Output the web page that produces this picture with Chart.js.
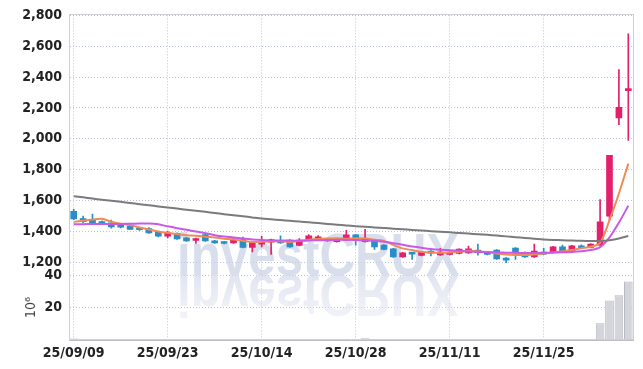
<!DOCTYPE html>
<html>
<head>
<meta charset="utf-8">
<script src="https://cdn.jsdelivr.net/npm/chart.js@4.4.1/dist/chart.umd.min.js"></script>
<style>
  html, body { margin: 0; padding: 0; background: #fff; }
  #wrap { width: 643px; height: 369px; position: relative; }
</style>
</head>
<body>
<div id="wrap"><canvas id="chart"></canvas></div>
<script>
/* ============================================================
   Candle chart (daily) + MAs + volume panel
   ============================================================ */

// trading days (YY/MM/DD)
const dates = [
  '25/09/09','25/09/10','25/09/11','25/09/12','25/09/15','25/09/16','25/09/17','25/09/18','25/09/19','25/09/22',
  '25/09/23','25/09/24','25/09/25','25/09/26','25/09/29','25/09/30','25/10/01','25/10/02','25/10/10','25/10/13',
  '25/10/14','25/10/15','25/10/16','25/10/17','25/10/20','25/10/21','25/10/22','25/10/23','25/10/24','25/10/27',
  '25/10/28','25/10/29','25/10/30','25/10/31','25/11/03','25/11/04','25/11/05','25/11/06','25/11/07','25/11/10',
  '25/11/11','25/11/12','25/11/13','25/11/14','25/11/17','25/11/18','25/11/19','25/11/20','25/11/21','25/11/24',
  '25/11/25','25/11/26','25/11/27','25/11/28','25/12/01','25/12/02','25/12/03','25/12/04','25/12/05','25/12/08'
];

const opens = [
  1530,1483,1477,1461,1455,1433,1433,1416,1418,1394,
  1368,1386,1357,1340,1379,1338,1332,1325,1347,1295,
  1317,1330,1338,1343,1308,1347,1343,1353,1332,1343,
  1377,1332,1338,1310,1286,1234,1260,1243,1265,1247,
  1250,1256,1260,1278,1267,1278,1226,1291,1263,1234,
  1260,1263,1299,1273,1306,1295,1310,1498,2135,2312
];
const highs = [
  1543,1498,1511,1468,1472,1440,1436,1420,1424,1397,
  1401,1390,1360,1356,1382,1341,1335,1360,1362,1328,
  1368,1350,1370,1346,1352,1378,1372,1356,1350,1407,
  1380,1412,1341,1313,1289,1263,1263,1268,1275,1289,
  1268,1287,1304,1317,1270,1281,1229,1294,1266,1317,
  1289,1302,1310,1309,1312,1320,1606,1893,2448,2681
];
const lows = [
  1475,1455,1452,1445,1420,1422,1410,1405,1386,1364,
  1357,1348,1334,1321,1334,1322,1318,1322,1292,1267,
  1299,1250,1322,1296,1305,1344,1340,1335,1329,1340,
  1310,1329,1282,1279,1231,1231,1217,1240,1240,1244,
  1247,1253,1257,1245,1247,1218,1196,1217,1231,1231,
  1249,1260,1260,1270,1290,1292,1307,1472,2092,1990
];
const closes = [
  1480,1463,1455,1450,1428,1427,1412,1410,1390,1368,
  1388,1351,1338,1353,1338,1325,1321,1349,1295,1325,
  1332,1347,1325,1299,1343,1370,1364,1338,1347,1377,
  1343,1353,1299,1282,1234,1260,1252,1265,1258,1265,
  1265,1284,1286,1263,1250,1221,1213,1259,1234,1271,
  1252,1299,1271,1306,1293,1317,1461,1893,2204,2320
];

// moving averages
const ma5 = [
  1461,1468,1476,1481,1462,1449,1440,1425,1412,1398,
  1390,1382,1374,1371,1365,1360,1352,1347,1338,1330,
  1332,1334,1336,1330,1338,1345,1350,1353,1355,1352,
  1355,1353,1345,1338,1312,1289,1278,1267,1262,1260,
  1262,1268,1273,1270,1265,1256,1250,1247,1246,1250,
  1256,1262,1270,1278,1290,1300,1325,1472,1645,1839
];
const ma10 = [
  1446,1446,1447,1447,1448,1448,1449,1450,1450,1445,
  1432,1420,1410,1398,1388,1375,1366,1360,1353,1347,
  1343,1341,1340,1339,1338,1340,1342,1343,1344,1345,
  1344,1341,1338,1332,1323,1312,1302,1293,1285,1280,
  1277,1273,1269,1266,1264,1263,1261,1260,1259,1259,
  1260,1262,1264,1266,1270,1278,1297,1360,1456,1565
];
const maLong = [
  1627,1620,1612,1605,1598,1591,1583,1576,1569,1561,
  1554,1547,1540,1533,1526,1519,1511,1504,1497,1490,
  1483,1478,1473,1468,1463,1458,1453,1448,1443,1438,
  1433,1429,1425,1421,1417,1413,1409,1405,1401,1397,
  1393,1389,1385,1381,1377,1372,1367,1362,1357,1352,
  1347,1344,1342,1340,1338,1337,1337,1342,1353,1370
];

// volume, unit 10^6
const volumes = [
  0.9,0.4,0.4,0.3,0.3,0.2,0.2,0.2,0.3,0.3,
  0.3,0.3,0.2,0.3,0.3,0.2,0.2,0.3,0.3,0.3,
  0.4,0.5,0.3,0.3,0.3,0.4,0.3,0.2,0.2,0.5,
  0.4,1.1,0.4,0.3,0.4,0.3,0.3,0.2,0.2,0.3,
  0.3,0.3,0.3,0.4,0.2,0.3,0.3,0.4,0.2,0.4,
  0.2,0.4,0.3,0.3,0.2,0.5,10.3,24.4,27.5,36.1
];

const priceTicks = [1200, 1400, 1600, 1800, 2000, 2200, 2400, 2600, 2800];
const volumeTicks = [20, 40];
const labelEvery = 10;

const UP = '#e2206c';
const DOWN = '#2b8dc8';
const GRID = 'rgba(165, 175, 210, 0.75)';
const fontFamily = "'Liberation Sans Narrow', 'DejaVu Sans Condensed', Roboto, sans-serif";

const candleColor = (ctx) => closes[ctx.dataIndex] >= opens[ctx.dataIndex] ? UP : DOWN;

/** Marca d'água + moldura da área do gráfico */
const decor = {
  id: 'decor',
  beforeDatasetsDraw(chart) {
    const { ctx, scales } = chart;
    const text = 'investCRUX';
    const left = scales.x.getPixelForValue(11);
    const width = scales.x.getPixelForValue(41) - left;
    const base = scales.y.bottom;
    ctx.save();
    ctx.font = "bold 60px 'Liberation Sans', Arial, sans-serif";
    const sx = width / ctx.measureText(text).width;
    ctx.translate(left, base);
    ctx.scale(sx, 1);
    ctx.fillStyle = 'rgba(200, 208, 228, 0.7)';
    ctx.fillText(text, 0, 0);
    // reflexo
    ctx.scale(1, -1);
    const g = ctx.createLinearGradient(0, 0, 0, -48);
    g.addColorStop(0, 'rgba(212, 217, 234, 0.7)');
    g.addColorStop(1, 'rgba(226, 229, 240, 0.4)');
    ctx.fillStyle = g;
    ctx.fillText(text, 0, 0);
    ctx.restore();
  },
  afterDraw(chart) {
    const { ctx, chartArea: a } = chart;
    ctx.save();
    ctx.strokeStyle = '#cfcfd6';
    ctx.lineWidth = 1;
    ctx.strokeRect(Math.round(a.left) + 0.5, Math.round(a.top) - 0.5, Math.round(a.width), Math.round(a.height));
    ctx.restore();
  }
};

const tickFont = { family: fontFamily, size: 14, weight: 'bold' };

new Chart(document.getElementById('chart').getContext('2d'), {
  data: {
    labels: dates,
    datasets: [
      { type: 'line', label: 'MA long', data: maLong, borderColor: '#7b7b7d', borderWidth: 2,
        pointRadius: 0, tension: 0.3, yAxisID: 'y', order: 0 },
      { type: 'line', label: 'MA10', data: ma10, borderColor: '#c85ae8', borderWidth: 2,
        pointRadius: 0, tension: 0.3, yAxisID: 'y', order: 0 },
      { type: 'line', label: 'MA5', data: ma5, borderColor: '#f08a58', borderWidth: 2,
        pointRadius: 0, tension: 0.3, yAxisID: 'y', order: 0 },
      { type: 'bar', label: 'body', data: dates.map((_, i) => [opens[i], closes[i]]),
        backgroundColor: candleColor, barThickness: 6, minBarLength: 2, grouped: false,
        yAxisID: 'y', order: 1 },
      { type: 'bar', label: 'wick', data: dates.map((_, i) => [lows[i], highs[i]]),
        backgroundColor: candleColor, barThickness: 1, grouped: false, yAxisID: 'y', order: 2 },
      { type: 'bar', label: 'volume', data: volumes, backgroundColor: '#d4d4db',
        borderColor: '#b8b8c2', borderWidth: 1, barPercentage: 0.92, categoryPercentage: 1,
        grouped: false, yAxisID: 'y2', order: 3 }
    ]
  },
  options: {
    responsive: true,
    maintainAspectRatio: false,
    animation: false,
    layout: { padding: { top: 15, right: 10, left: 0, bottom: 0 } },
    plugins: { legend: { display: false }, tooltip: { enabled: false } },
    scales: {
      x: {
        type: 'category',
        offset: true,
        grid: { offset: false, color: GRID, drawTicks: false },
        border: { color: '#bdbdc6', dash: [1, 2] },
        ticks: { autoSkip: false, maxRotation: 0, color: '#222', font: tickFont, padding: 5 },
        afterBuildTicks: (s) => { s.ticks = s.ticks.filter(t => t.value % labelEvery === 0); },
        afterFit: (s) => { s.height = 29; }
      },
      y: {
        type: 'linear',
        position: 'left',
        stack: 'panels',
        stackWeight: 4,
        weight: 1,
        min: 1116,
        max: 2800,
        grid: { color: GRID, drawTicks: false },
        border: { color: '#cfcfd6', dash: [1, 2] },
        ticks: { autoSkip: false, color: '#222', font: tickFont, padding: 7,
                 callback: (v) => v.toLocaleString('en-US') },
        afterBuildTicks: (s) => { s.ticks = priceTicks.map(v => ({ value: v })); },
        afterFit: (s) => { s.width = 69; }
      },
      y2: {
        type: 'linear',
        position: 'left',
        stack: 'panels',
        stackWeight: 1,
        weight: 0,
        min: 0,
        max: 40,
        grid: { color: GRID, drawTicks: false },
        border: { color: '#cfcfd6', dash: [1, 2] },
        ticks: { autoSkip: false, color: '#222', font: tickFont, padding: 7 },
        title: { display: true, text: '10⁶', color: '#444', font: { family: fontFamily, size: 14 },
                 padding: { top: 23, bottom: 0 } },
        afterBuildTicks: (s) => { s.ticks = volumeTicks.map(v => ({ value: v })); },
        afterFit: (s) => { s.width = 69; }
      }
    }
  },
  plugins: [decor]
});
</script>
</body>
</html>
